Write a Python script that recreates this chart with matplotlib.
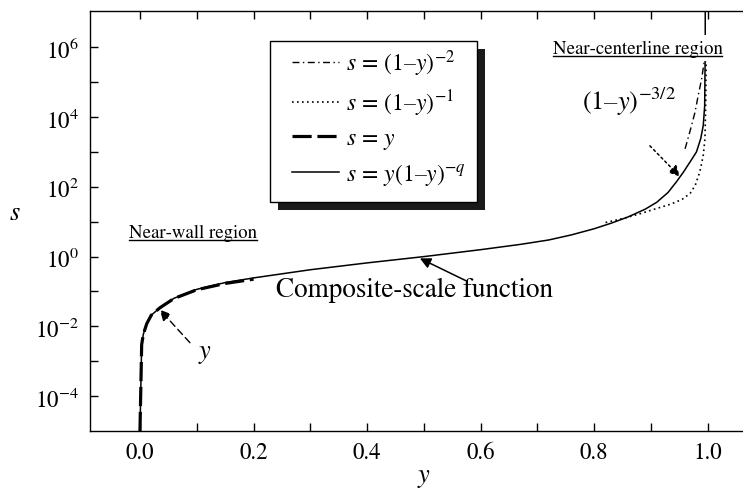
import numpy as np
import matplotlib
matplotlib.use('Agg')
import matplotlib.pyplot as plt
from matplotlib.patches import Rectangle
from matplotlib.lines import Line2D
from matplotlib.transforms import IdentityTransform

plt.rcParams['font.family'] = 'STIXGeneral'
plt.rcParams['mathtext.fontset'] = 'stix'

# values (y, s)
comp_y = [0.0, 0.003, 0.006, 0.012, 0.02, 0.035, 0.06, 0.1, 0.15, 0.2, 0.3, 0.4,
          0.5, 0.6, 0.67, 0.72, 0.76, 0.8, 0.83, 0.86, 0.89, 0.91, 0.93, 0.945,
          0.957, 0.969, 0.98, 0.9875, 0.992, 0.9945, 0.9955, 0.9955]
comp_s = [1e-5, 0.003, 0.006, 0.012, 0.021, 0.034, 0.064, 0.115, 0.18, 0.245, 0.42, 0.66,
          1.0, 1.58, 2.24, 3.0, 4.2, 6.3, 9.1, 13.8, 23, 36, 69, 141,
          263, 525, 1000, 2400, 5750, 2.1e4, 1e6, 2e7]

wall_y = [0.0, 0.003, 0.006, 0.012, 0.02, 0.035, 0.06, 0.1, 0.15, 0.2]
wall_s = [1e-5, 0.003, 0.006, 0.012, 0.021, 0.034, 0.063, 0.112, 0.17, 0.225]

inv1_y = [0.82, 0.851, 0.881, 0.91, 0.935, 0.955, 0.969, 0.978, 0.986, 0.992, 0.995, 0.9965, 0.9972]
inv1_s = [9.5, 12.4, 17, 24, 32, 44, 65, 112, 270, 800, 2400, 3.3e4, 1e6]

inv2_y = [0.96, 0.969, 0.9776, 0.983, 0.989, 0.9935, 0.996]
inv2_s = [1230, 4100, 1.4e4, 4.1e4, 1.2e5, 3.7e5, 1e6]

xticks = [0.0, 0.2, 0.4, 0.6, 0.8, 1.0]
xticklabels = ['0.0', '0.2', '0.4', '0.6', '0.8', '1.0']
yticks = [1e-4, 1e-2, 1e0, 1e2, 1e4, 1e6]

fig = plt.figure(figsize=(7.43, 4.89), dpi=100)
ax = fig.add_axes([90/743, 57/489, 653/743, 420/489])

l_comp, = ax.plot(comp_y, comp_s, color='k', lw=1.1)
l_wall, = ax.plot(wall_y, wall_s, color='k', lw=2.3, linestyle=(0, (6, 1.8)))
l_inv1, = ax.plot(inv1_y, inv1_s, color='k', lw=1.2, linestyle=(0, (1, 2)))
l_inv2, = ax.plot(inv2_y, inv2_s, color='k', lw=1.0, linestyle=(0, (5, 2.5, 1, 2.5)))

ax.set_yscale('log')
ax.set_xlim(-0.088, 1.062)
ax.set_ylim(1e-5, 1.1e7)
ax.set_xticks(xticks)
ax.set_xticklabels(xticklabels)
ax.set_xticks(np.arange(0.1, 1.0, 0.2), minor=True)
ax.set_yticks(yticks)
ax.set_yticks([1e-3, 1e-1, 1e1, 1e3, 1e5], minor=True)
ax.set_yticklabels([], minor=True)
ax.tick_params(which='both', direction='in', length=6, width=1, labelsize=16.5,
               top=True, right=False)
ax.tick_params(axis='x', pad=8)
ax.tick_params(axis='y', pad=8)
ax.spines['right'].set_visible(False)
for sp in ['left', 'top', 'bottom']:
    ax.spines[sp].set_linewidth(1.0)

fig.text(15/743, 1 - 214/489, '$s$', fontsize=19, ha='center', va='center')
fig.text(424/743, 1 - 478/489, '$y$', fontsize=19, ha='center', va='center')

# legend box with a black drop shadow (drawn by hand, offset 8 px)
bx0, bx1 = (270 - 90) / 653, (477 - 90) / 653
by0, by1 = (432 - 203) / 420, (432 - 42) / 420
ax.add_patch(Rectangle((bx0 + 8/653, by0 - 8/420), bx1 - bx0, by1 - by0, transform=ax.transAxes,
                       facecolor='#1a1a1a', edgecolor='none', zorder=5.5, clip_on=False))
ax.add_patch(Rectangle((bx0, by0), bx1 - bx0, by1 - by0, transform=ax.transAxes,
                       facecolor='white', edgecolor='k', lw=1.0, zorder=5.8, clip_on=False))

leg = ax.legend([l_inv2, l_inv1, l_wall, l_comp],
                [r'$s\,=\,(1{\rm –}y)^{-2}$', r'$s\,=\,(1{\rm –}y)^{-1}$',
                 r'$s\,=\,y$', r'$s\,=\,y(1{\rm –}y)^{-q}$'],
                loc='upper left', bbox_to_anchor=((292 - 90) / 653, (432 - 48) / 420),
                borderaxespad=0, borderpad=0, frameon=False, fontsize=17,
                handlelength=2.0, handletextpad=0.3, labelspacing=0.42)
leg.set_zorder(6)

# annotations
t_wall = ax.text(-0.019, 4.9, 'Near-wall region', fontsize=13.5, ha='left', va='center')
t_cent = ax.text(0.7266, 9.5e5, 'Near-centerline region', fontsize=13.5, ha='left',
                 va='center', bbox=dict(fc='white', ec='none', pad=3), zorder=5)
ax.text(0.7786, 1.73e4, r'$(1{\rm –}y)^{-3/2}$', fontsize=19, ha='left', va='baseline')
ax.text(0.483, 0.117, 'Composite-scale function', fontsize=19.5, ha='center', va='center')
ax.text(0.114, 1.7e-3, '$y$', fontsize=19, ha='center', va='center')

ax.annotate('', xy=(0.951, 196), xytext=(0.898, 1.5e3),
            arrowprops=dict(arrowstyle='-|>', color='k', lw=1.1, linestyle=(0, (1.5, 2)),
                            mutation_scale=16, shrinkA=0, shrinkB=0))
ax.annotate('', xy=(0.493, 0.89), xytext=(0.575, 0.2),
            arrowprops=dict(arrowstyle='-|>', color='k', lw=1.1,
                            mutation_scale=16, shrinkA=0, shrinkB=0))
ax.annotate('', xy=(0.035, 0.03), xytext=(0.088, 3.4e-3),
            arrowprops=dict(arrowstyle='-|>', color='k', lw=1.0, linestyle=(0, (5, 3)),
                            mutation_scale=16, shrinkA=0, shrinkB=0))

fig.canvas.draw()
# underline region labels
for t in [t_wall, t_cent]:
    tb = t.get_window_extent()
    fig.add_artist(Line2D([tb.x0, tb.x1], [tb.y0 + 1, tb.y0 + 1], transform=IdentityTransform(),
                          color='k', lw=1.0))

fig.savefig('out.png', dpi=100)
